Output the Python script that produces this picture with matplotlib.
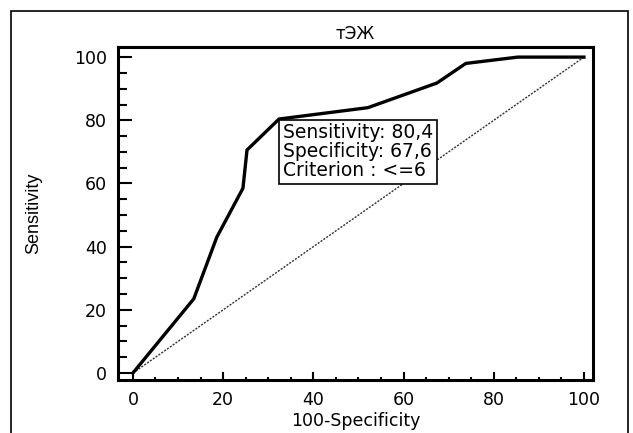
import matplotlib
matplotlib.use("Agg")
import matplotlib.pyplot as plt
from matplotlib.patches import Rectangle
from matplotlib.ticker import MultipleLocator

plt.rcParams['font.family'] = ['DejaVu Sans']

# ROC curve points (100-Specificity, Sensitivity)
fpr = [0, 13.5, 18.6, 24.4, 25.3, 32.4, 52.1, 67.4, 73.8, 85.3, 100]
tpr = [0, 23.5, 43.0, 58.5, 70.6, 80.4, 84.0, 91.8, 98.0, 100, 100]
diag = [0, 100]

title = "тЭЖ"
box_text = "Sensitivity: 80,4\nSpecificity: 67,6\nCriterion : <=6"

fig = plt.figure(figsize=(6.33, 4.33), dpi=100)
fig.patches.append(Rectangle((11 / 633, -0.02), 617 / 633, 1.02 - 11 / 433,
                             transform=fig.transFigure, fill=False,
                             edgecolor='black', linewidth=1.2))

ax = fig.add_axes([118 / 633, 1 - 380 / 433, 475 / 633, 333 / 433])
ax.plot(diag, diag, color='#333333', linewidth=1.0, linestyle=(0, (1.5, 1)))
ax.plot(fpr, tpr, color='black', linewidth=2.4, solid_joinstyle='miter')

ax.set_xlim(-3.3, 102)
ax.set_ylim(-2.2, 103.2)
ax.xaxis.set_major_locator(MultipleLocator(20))
ax.xaxis.set_minor_locator(MultipleLocator(5))
ax.yaxis.set_major_locator(MultipleLocator(20))
ax.yaxis.set_minor_locator(MultipleLocator(5))

for s in ax.spines.values():
    s.set_linewidth(2.2)

ax.tick_params(axis='y', which='major', direction='in', length=10, width=1.5,
               pad=8, labelsize=12.5)
ax.tick_params(axis='y', which='minor', direction='in', length=6.5, width=1.5)
ax.tick_params(axis='x', which='major', direction='in', length=5.5, width=1.5,
               pad=8, labelsize=12.5)
ax.tick_params(axis='x', which='minor', direction='in', length=2.5, width=1.5)

ax.set_title(title, fontsize=12, pad=6)
ax.set_xlabel("100-Specificity", fontsize=12.5, labelpad=2)
ax.set_ylabel("Sensitivity", fontsize=13, labelpad=23,
              family=['Liberation Sans Narrow', 'Liberation Sans'])

ax.text(33.3, 79.0, box_text, fontsize=13.5, va='top', ha='left',
        linespacing=1.0,
        bbox=dict(boxstyle='square,pad=0.2', facecolor='white',
                  edgecolor='black', linewidth=1.2))

fig.savefig("out.png", dpi=100)
